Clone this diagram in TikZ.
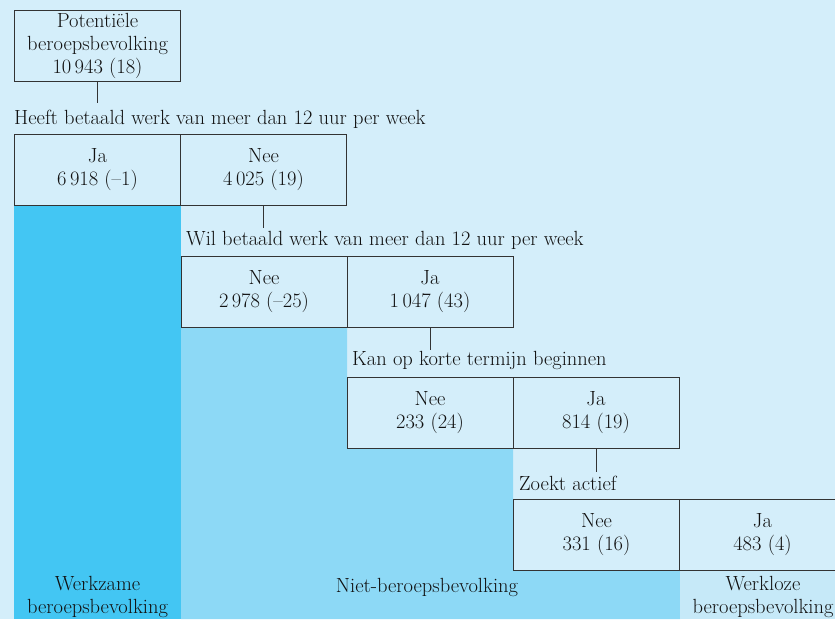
\documentclass[tikz,border=0pt]{standalone}
\usetikzlibrary{positioning}
\definecolor{achtergrond}{HTML}{D4EEFA}
\definecolor{werkzaam}{HTML}{43C6F3}
\definecolor{nietberoeps}{HTML}{8DD9F6}
\definecolor{werkloos}{HTML}{C6E9F8}
\definecolor{lijn}{HTML}{333333}
\definecolor{tekst}{HTML}{111111}
\begin{document}
\begin{tikzpicture}[x=1pt,y=-1pt,
  every node/.style={font=\fontsize{20.5}{23}\selectfont,text=tekst},
  cell/.style={rectangle,draw=lijn,fill=achtergrond,line width=1pt,outer sep=0pt,minimum width=166pt,minimum height=71pt,align=center,inner sep=0pt},
  vraag/.style={anchor=west,inner sep=0pt},
  groep/.style={align=center,inner sep=0pt}]
\useasboundingbox (0,0) rectangle (835,619);
\clip (0,0) rectangle (835,619);
\fill[achtergrond] (0,0) rectangle (835,619);
% gekleurde banden
\fill[werkzaam] (14,205) rectangle (181,619);
\fill[nietberoeps] (181,328) -- (347,328) -- (347,448) -- (513,448) -- (513,571) -- (680,571) -- (680,619) -- (181,619) -- cycle;
\fill[werkloos] (680,571) rectangle (835,619);
% boom
\node[cell] (pot) at (97.5,45.5) {Potentiële\\beroepsbevolking\\10\,943 (18)};
\coordinate (k1) at ([yshift=-22pt]pot.south);
\node[vraag] (v1) at (14,119) {Heeft betaald werk van meer dan 12 uur per week};
\node[cell] (ja1) at (97.5,169.5) {Ja\\6\,918 (--1)};
\node[cell,right=0pt of ja1] (nee1) {Nee\\4\,025 (19)};
\coordinate (k2) at ([yshift=-23pt]nee1.south);
\node[vraag] (v2) at (186,240) {Wil betaald werk van meer dan 12 uur per week};
\node[cell] (nee2) at (264,292) {Nee\\2\,978 (--25)};
\node[cell,right=0pt of nee2] (ja2) {Ja\\1\,047 (43)};
\coordinate (k3) at ([yshift=-22pt]ja2.south);
\node[vraag] (v3) at (352,360) {Kan op korte termijn beginnen};
\node[cell] (nee3) at (430,412.5) {Nee\\233 (24)};
\node[cell,right=0pt of nee3] (ja3) {Ja\\814 (19)};
\coordinate (k4) at ([yshift=-24pt]ja3.south);
\node[vraag] (v4) at (519,483) {Zoekt actief};
\node[cell] (nee4) at (596.5,535) {Nee\\331 (16)};
\node[cell,right=0pt of nee4] (ja4) {Ja\\483 (4)};
\draw[lijn,line width=1pt] (pot.south) -- (k1);
\draw[lijn,line width=1pt] (nee1.south) -- (k2);
\draw[lijn,line width=1pt] (ja2.south) -- (k3);
\draw[lijn,line width=1pt] (ja3.south) -- (k4);
% groepen onderaan
\node[groep] (werkzame) at (97.5,597) {Werkzame\\beroepsbevolking};
\node[groep] (niet) at (427,587) {Niet-beroepsbevolking};
\node[groep] (werkloze) at (763,597) {Werkloze\\beroepsbevolking};
\end{tikzpicture}
\end{document}
